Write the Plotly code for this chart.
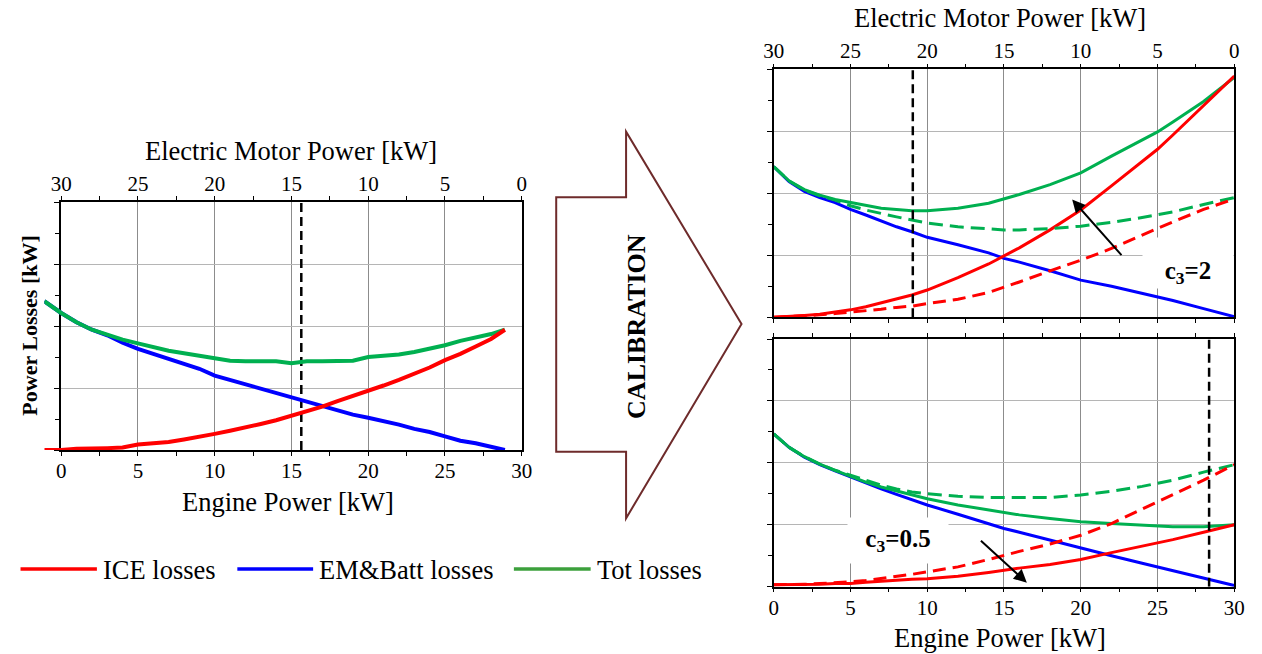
import plotly.graph_objects as go

W, H = 1262, 654
FONT = "Liberation Serif, Times New Roman, serif"

# ---------------- data ----------------
# Left chart: engine power [kW] and losses (arbitrary kW units, 0..4)
eng_left = [-1.1, 0, 1, 2, 3, 4, 5, 6, 7, 8, 9, 10, 11, 12, 13, 14, 15, 16, 17, 18,
            19, 20, 21, 22, 23, 24, 25, 26, 27, 28, 28.9]
ice_left = [0.00, 0.00, 0.02, 0.02, 0.03, 0.04, 0.09, 0.11, 0.13, 0.17, 0.21, 0.26, 0.31,
            0.36, 0.42, 0.48, 0.55, 0.62, 0.70, 0.79, 0.87, 0.95, 1.04, 1.13, 1.23, 1.33,
            1.45, 1.55, 1.67, 1.79, 1.94]
em_left = [2.40, 2.21, 2.06, 1.94, 1.85, 1.73, 1.63, 1.55, 1.48, 1.39, 1.31, 1.20, 1.13,
           1.07, 0.99, 0.92, 0.85, 0.79, 0.72, 0.64, 0.57, 0.52, 0.47, 0.41, 0.34, 0.29,
           0.22, 0.15, 0.11, 0.05, 0.00]
tot_left = [2.40, 2.21, 2.06, 1.94, 1.86, 1.78, 1.72, 1.66, 1.60, 1.56, 1.52, 1.47, 1.44,
            1.43, 1.43, 1.43, 1.40, 1.43, 1.43, 1.44, 1.44, 1.50, 1.52, 1.54, 1.58, 1.63,
            1.69, 1.76, 1.81, 1.87, 1.94]
opt_left = 15.64

# Right charts: common engine power grid
eng_right = [0, 1, 2, 3, 4, 5, 6, 7, 8, 9, 10, 12, 14, 15, 16, 18, 20, 22, 24, 25, 26, 28, 30]

# c3 = 2 (top)
top_ice = [0.00, 0.01, 0.03, 0.05, 0.08, 0.12, 0.17, 0.23, 0.29, 0.36, 0.44, 0.64, 0.86,
           0.99, 1.12, 1.41, 1.73, 2.12, 2.52, 2.71, 2.94, 3.41, 3.89]
top_em = [2.43, 2.19, 2.03, 1.93, 1.85, 1.74, 1.65, 1.55, 1.46, 1.38, 1.29, 1.17, 1.04,
          0.95, 0.89, 0.75, 0.60, 0.50, 0.39, 0.33, 0.27, 0.14, 0.01]
top_tot = [2.43, 2.20, 2.06, 1.97, 1.90, 1.85, 1.80, 1.76, 1.74, 1.72, 1.72, 1.76, 1.84,
           1.91, 1.98, 2.14, 2.33, 2.60, 2.86, 2.99, 3.15, 3.48, 3.87]
top_ice_ref = [0.00, 0.01, 0.02, 0.04, 0.06, 0.08, 0.10, 0.13, 0.16, 0.18, 0.22, 0.29, 0.40,
               0.48, 0.57, 0.75, 0.92, 1.11, 1.33, 1.44, 1.54, 1.74, 1.91]
top_tot_ref = [2.43, 2.20, 2.05, 1.96, 1.89, 1.80, 1.73, 1.67, 1.62, 1.57, 1.52, 1.46, 1.42,
               1.41, 1.41, 1.43, 1.47, 1.53, 1.61, 1.65, 1.70, 1.82, 1.93]
opt_top = 9.06

# c3 = 0.5 (bottom)
bot_ice = [0.03, 0.03, 0.04, 0.04, 0.05, 0.05, 0.07, 0.09, 0.10, 0.12, 0.13, 0.17, 0.23,
           0.27, 0.30, 0.36, 0.44, 0.55, 0.65, 0.70, 0.76, 0.88, 1.00]
bot_em = [2.47, 2.25, 2.09, 1.97, 1.87, 1.77, 1.67, 1.58, 1.49, 1.40, 1.32, 1.17, 1.02,
          0.94, 0.88, 0.75, 0.62, 0.50, 0.38, 0.32, 0.26, 0.14, 0.02]
bot_tot = [2.47, 2.25, 2.10, 1.98, 1.88, 1.78, 1.69, 1.61, 1.55, 1.48, 1.42, 1.32, 1.24,
           1.20, 1.16, 1.10, 1.05, 1.02, 1.00, 0.99, 0.97, 0.97, 1.00]
bot_ice_ref = [0.03, 0.03, 0.04, 0.05, 0.06, 0.08, 0.10, 0.13, 0.17, 0.20, 0.24, 0.32, 0.44,
               0.51, 0.57, 0.69, 0.83, 1.02, 1.25, 1.37, 1.48, 1.72, 1.97]
bot_tot_ref = [2.47, 2.25, 2.10, 1.98, 1.88, 1.80, 1.71, 1.64, 1.58, 1.53, 1.50, 1.46, 1.44,
               1.44, 1.44, 1.44, 1.48, 1.54, 1.62, 1.67, 1.72, 1.85, 1.97]
opt_bot = 28.36

x_ticks = [0, 5, 10, 15, 20, 25, 30]
legend_names = ["ICE losses", "EM&Batt losses", "Tot losses"]

RED, BLUE, GREEN = "#FF0000", "#0000FF", "#00B050"
LEG_COLORS = ["#FF0000", "#0000FF", "#3CA03C"]

# ---------------- layout geometry (pixels) ----------------
def fx(p):
    return p / W


def fy(p):
    return 1 - p / H


LX0, LX1, LY_B, LY_T = 52, 520, 450, 202
RX0, RX1 = 776, 1244
TY_B, TY_T = 317.3, 69.3
BY_B, BY_T = 586.7, 339
px_per_kw = (LX1 - LX0) / 30.0

fig = go.Figure()


def add_curve(x, y, color, xa, ya, width, dash="solid"):
    fig.add_trace(go.Scatter(x=x, y=y, mode="lines", xaxis=xa, yaxis=ya,
                             line=dict(color=color, width=width, dash=dash),
                             showlegend=False, hoverinfo="skip"))


# left chart curves
add_curve(eng_left, em_left, BLUE, "x3", "y3", 4)
add_curve(eng_left, tot_left, GREEN, "x3", "y3", 4)
add_curve(eng_left, ice_left, RED, "x3", "y3", 4)

# top right: calibrated (solid) and reference (dashed)
add_curve(eng_right, top_em, BLUE, "x4", "y4", 3)
add_curve(eng_right, top_tot, GREEN, "x4", "y4", 3)
add_curve(eng_right, top_ice, RED, "x4", "y4", 3)
add_curve(eng_right, top_tot_ref, GREEN, "x4", "y4", 3, "14px,7px")
add_curve(eng_right, top_ice_ref, RED, "x4", "y4", 3, "13px,7px")

# bottom right
add_curve(eng_right, bot_em, BLUE, "x6", "y6", 3)
add_curve(eng_right, bot_tot, GREEN, "x6", "y6", 3)
add_curve(eng_right, bot_ice, RED, "x6", "y6", 3)
add_curve(eng_right, bot_tot_ref, GREEN, "x6", "y6", 3, "14px,7px")
add_curve(eng_right, bot_ice_ref, RED, "x6", "y6", 3, "13px,7px")

# optimum markers (vertical dashed lines)
for xv, xa, ya in [(opt_left, "x", "y"), (opt_top, "x4", "y4"), (opt_bot, "x6", "y6")]:
    fig.add_trace(go.Scatter(x=[xv, xv], y=[0, 4], mode="lines", xaxis=xa, yaxis=ya,
                             line=dict(color="black", width=2.5, dash="9px,5px"),
                             showlegend=False, hoverinfo="skip"))

# electric motor power axes (top) need a trace to be rendered
for xa, ya in [("x2", "y"), ("x5", "y4")]:
    fig.add_trace(go.Scatter(x=[30, 0], y=[0, 0], mode="markers", xaxis=xa, yaxis=ya,
                             marker=dict(opacity=0, size=1), showlegend=False,
                             hoverinfo="skip"))

tick_font = dict(family=FONT, size=21, color="black")


def xstyle(domain, **kw):
    d = dict(domain=domain, range=[0, 30], tickvals=x_ticks, showgrid=True,
             gridcolor="#8c8c8c", gridwidth=1, showline=True, linecolor="black",
             linewidth=1.5, ticks="outside", ticklen=1, tickwidth=1, tickcolor="black",
             minor=dict(dtick=2.5, tick0=0, ticks="outside", ticklen=4, tickwidth=1,
                        tickcolor="black", showgrid=False),
             tickfont=tick_font, zeroline=False, fixedrange=True)
    d.update(kw)
    return d


def ystyle(domain, **kw):
    d = dict(domain=domain, range=[0, 4], dtick=1, tick0=0, showgrid=True,
             gridcolor="#b5b5b5", gridwidth=1, showline=True, mirror=True,
             linecolor="black", linewidth=1.5, ticks="outside", ticklen=5, tickwidth=1,
             tickcolor="black", showticklabels=False,
             minor=dict(dtick=0.5, tick0=0, ticks="outside", ticklen=4, tickwidth=1,
                        tickcolor="black", showgrid=False),
             zeroline=False, fixedrange=True)
    d.update(kw)
    return d


ldom = [fx(LX0), fx(LX1)]
rdom = [fx(RX0), fx(RX1)]
em_ticks = dict(showgrid=False, side="top", range=[30, 0], tickvals=x_ticks)

fig.update_layout(
    width=W, height=H, margin=dict(l=0, r=0, t=0, b=0),
    paper_bgcolor="white", plot_bgcolor="rgba(0,0,0,0)", showlegend=False,
    font=dict(family=FONT, color="black"),
    xaxis=xstyle(ldom, anchor="y"),
    xaxis2=xstyle(ldom, anchor="y", overlaying="x", **em_ticks),
    yaxis=ystyle([fy(LY_B), fy(LY_T)], anchor="x"),
    xaxis3=dict(domain=[fx(LX0 - 1.1 * px_per_kw), fx(LX1)], range=[-1.1, 30],
                visible=False, anchor="y3", fixedrange=True),
    yaxis3=dict(domain=[fy(LY_B), fy(LY_T)], range=[0, 4], visible=False,
                anchor="x3", fixedrange=True),
    xaxis4=xstyle(rdom, anchor="y4", showticklabels=False),
    xaxis5=xstyle(rdom, anchor="y4", overlaying="x4", **em_ticks),
    yaxis4=ystyle([fy(TY_B), fy(TY_T)], anchor="x4"),
    xaxis6=xstyle(rdom, anchor="y6", mirror="ticks"),
    yaxis6=ystyle([fy(BY_B), fy(BY_T)], anchor="x6"),
)

ann = []


def label(text, px, py, size, bold=False, angle=0, xanchor="center", **kw):
    t = f"<b>{text}</b>" if bold else text
    ann.append(dict(text=t, x=fx(px), y=fy(py), xref="paper", yref="paper",
                    xanchor=xanchor, yanchor="middle", showarrow=False, textangle=angle,
                    font=dict(family=FONT, size=size, color="black"), **kw))


# axis titles
label("Electric Motor Power [kW]", 286, 151, 26.5)
label("Engine Power [kW]", 282, 502, 26.5)
label("Power Losses [kW]", 19, 326, 22, bold=True, angle=-90)
label("Electric Motor Power [kW]", 1006, 18, 26.5)
label("Engine Power [kW]", 1006, 638, 26.5)
label("CALIBRATION", 636, 326, 26, bold=True, angle=-90)

# c3 labels on white patches
label("c<sub>3</sub>=2", 1197, 263, 25, bold=True, bgcolor="white", width=90,
      height=50, valign="bottom", borderpad=0)
label("c<sub>3</sub>=0.5", 902, 540, 25, bold=True, bgcolor="white", width=100,
      height=45, borderpad=0)

# arrows from reference to calibrated curves
ann.append(dict(x=19.44, y=1.90, xref="x4", yref="y4", ax=22.74, ay=0.98,
                axref="x4", ayref="y4", text="", showarrow=True, arrowhead=2,
                arrowsize=1.3, arrowwidth=2, arrowcolor="black"))
ann.append(dict(x=16.49, y=0.065, xref="x6", yref="y6", ax=13.4, ay=0.765,
                axref="x6", ayref="y6", text="", showarrow=True, arrowhead=2,
                arrowsize=1.3, arrowwidth=2, arrowcolor="black"))

# legend
shapes = []
leg_lines = [(10.7, 88.3, 92), (231, 308, 312), (512, 590, 594)]
for (x0, x1, tx), name, col in zip(leg_lines, legend_names, LEG_COLORS):
    shapes.append(dict(type="line", xref="paper", yref="paper", x0=fx(x0), x1=fx(x1),
                       y0=fy(569), y1=fy(569), line=dict(color=col, width=3.5)))
    label(name, tx, 570, 26.5, xanchor="left")

# big block arrow
pts = [(555, 197.3), (626, 197.3), (626, 131.7), (743.3, 324), (626, 518.3),
       (626, 451.7), (555, 451.7)]
path = "M " + " L ".join(f"{fx(a):.5f},{fy(b):.5f}" for a, b in pts) + " Z"
shapes.append(dict(type="path", path=path, xref="paper", yref="paper",
                   line=dict(color="#6E2B2B", width=2), fillcolor="rgba(0,0,0,0)"))

fig.update_layout(annotations=ann, shapes=shapes)
fig.write_html("out.html")
